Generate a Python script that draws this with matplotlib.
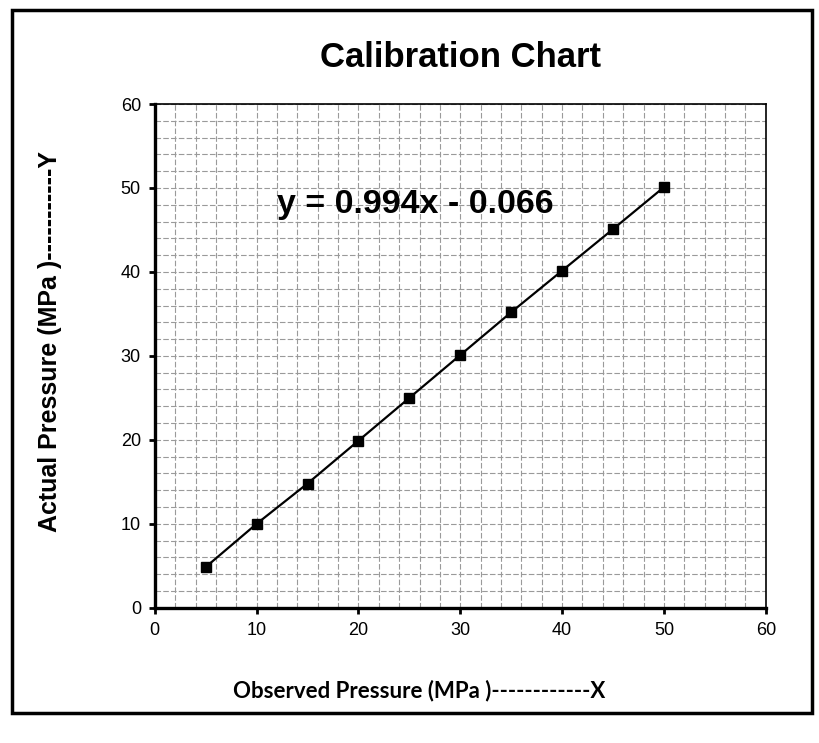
import matplotlib
matplotlib.use("Agg")
import matplotlib.pyplot as plt
from matplotlib.patches import Rectangle

# Observed vs actual pressure readings (MPa)
observed = [5, 10, 15, 20, 25, 30, 35, 40, 45, 50]
actual = [4.85, 10.0, 14.8, 19.9, 25.0, 30.1, 35.2, 40.15, 45.1, 50.1]
ticks = [0, 10, 20, 30, 40, 50, 60]
grid_steps = list(range(0, 62, 2))
equation = "y = 0.994x - 0.066"

plt.rcParams['font.family'] = ['Liberation Sans', 'DejaVu Sans']

fig = plt.figure(figsize=(8.19, 7.43), dpi=100)
ax = fig.add_axes([0.189, 0.182, 0.746, 0.678])

# outer frame around the whole chart
fig.patches.append(Rectangle((0.015, 0.040), 0.976, 0.947, transform=fig.transFigure,
                             fill=False, edgecolor='black', linewidth=2.5))

# graph-paper style grid every 2 units
for g in grid_steps:
    ax.axvline(g, color='#9a9a9a', linewidth=0.8, linestyle=(0, (5, 2)), zorder=0)
    ax.axhline(g, color='#9a9a9a', linewidth=0.8, linestyle=(0, (5, 2)), zorder=0)

ax.plot(observed, actual, color='black', linewidth=1.6, marker='s',
        markersize=7, markerfacecolor='black', zorder=3)

ax.set_xlim(0, 60)
ax.set_ylim(0, 60)
ax.set_xticks(ticks)
ax.set_yticks(ticks)
ax.tick_params(axis='both', direction='out', length=4, width=2, labelsize=13, pad=6)

ax.spines['left'].set_linewidth(2.4)
ax.spines['bottom'].set_linewidth(2.4)
ax.spines['top'].set_linewidth(1.2)
ax.spines['right'].set_linewidth(1.2)

ax.text(12.0, 48.0, equation, fontsize=24.5, fontweight='bold', ha='left', va='center')

fig.text(0.562, 0.922, "Calibration Chart", fontsize=25, fontweight='bold',
         ha='center', va='center')
fig.text(0.061, 0.540, "Actual Pressure (MPa )-----------Y", fontsize=18,
         fontweight='bold', rotation=90, ha='center', va='center')
fig.text(0.512, 0.071, "Observed Pressure (MPa )------------X", fontsize=16,
         fontweight='bold', family=['Lato', 'DejaVu Sans'], ha='center', va='center')

fig.savefig("out.png", dpi=100)
